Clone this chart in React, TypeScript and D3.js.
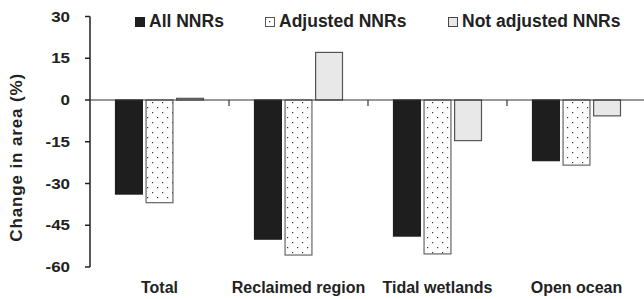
import React, { useRef, useEffect } from "react";
import * as d3 from "d3";

const categories = ["Total", "Reclaimed region", "Tidal wetlands", "Open ocean"];
const seriesNames = ["All NNRs", "Adjusted NNRs", "Not adjusted NNRs"];
const allNNRs = [-33.8, -50.0, -48.9, -21.8];
const adjustedNNRs = [-36.9, -55.7, -55.3, -23.4];
const notAdjustedNNRs = [0.6, 17.1, -14.6, -5.7];
const yTicks = [30, 15, 0, -15, -30, -45, -60];

export default function App() {
  const ref = useRef<SVGSVGElement>(null);

  useEffect(() => {
    const width = 644,
      height = 299;
    const svg = d3.select(ref.current).attr("width", width).attr("height", height);
    svg.selectAll("*").remove();

    const font = "'Liberation Sans', Arial, sans-serif";
    const left = 90,
      right = 646,
      top = 16.5,
      bottom = 267;

    const x = d3.scaleBand<string>().domain(categories).range([left, right]).padding(0);
    const y = d3.scaleLinear().domain([-60, 30]).range([bottom, top]);
    const inner = d3
      .scaleBand<string>()
      .domain(seriesNames)
      .range([-44, 44])
      .paddingInner(0.12)
      .paddingOuter(0);

    const defs = svg.append("defs");
    const pat = defs
      .append("pattern")
      .attr("id", "dots")
      .attr("patternUnits", "userSpaceOnUse")
      .attr("width", 10)
      .attr("height", 10);
    pat.append("rect").attr("width", 10).attr("height", 10).attr("fill", "#fff");
    pat.append("rect").attr("x", 2).attr("y", 2).attr("width", 1.2).attr("height", 1.2).attr("fill", "#333");
    pat.append("rect").attr("x", 7).attr("y", 7).attr("width", 1.2).attr("height", 1.2).attr("fill", "#333");

    const styles = [
      { fill: "#1e1e1e", stroke: "#1e1e1e" },
      { fill: "url(#dots)", stroke: "#666" },
      { fill: "#e8e8e8", stroke: "#555" },
    ];
    const series = [allNNRs, adjustedNNRs, notAdjustedNNRs];

    series.forEach((vals, si) => {
      svg
        .append("g")
        .selectAll("rect")
        .data(vals)
        .enter()
        .append("rect")
        .attr("x", (d, i) => x(categories[i])! + x.bandwidth() / 2 + inner(seriesNames[si])!)
        .attr("width", inner.bandwidth())
        .attr("y", (d) => y(Math.max(0, d)))
        .attr("height", (d) => Math.abs(y(d) - y(0)))
        .attr("fill", styles[si].fill)
        .attr("stroke", styles[si].stroke)
        .attr("stroke-width", 1.2);
    });

    // y axis
    const yAxis = svg.append("g").attr("transform", `translate(${left},0)`);
    yAxis
      .append("line")
      .attr("x1", 0)
      .attr("x2", 0)
      .attr("y1", y(30))
      .attr("y2", y(-60))
      .attr("stroke", "#222")
      .attr("stroke-width", 1.5);
    yTicks.forEach((t) => {
      yAxis
        .append("line")
        .attr("x1", -5)
        .attr("x2", 0)
        .attr("y1", y(t))
        .attr("y2", y(t))
        .attr("stroke", "#222")
        .attr("stroke-width", 1.5);
      yAxis
        .append("text")
        .attr("transform", `translate(-20,${y(t)}) scale(1.17,1)`)
        .attr("dy", "0.36em")
        .attr("text-anchor", "end")
        .attr("font-family", font)
        .attr("font-weight", "bold")
        .attr("font-size", 14.5)
        .attr("fill", "#222")
        .text(t);
    });

    // zero line
    svg
      .append("line")
      .attr("x1", left)
      .attr("x2", right)
      .attr("y1", y(0))
      .attr("y2", y(0))
      .attr("stroke", "#333")
      .attr("stroke-width", 1.2);
    categories.forEach((c) => {
      const xe = x(c)! + x.bandwidth();
      svg
        .append("line")
        .attr("x1", xe)
        .attr("x2", xe)
        .attr("y1", y(0))
        .attr("y2", y(0) + 6)
        .attr("stroke", "#333")
        .attr("stroke-width", 1.2);
      svg
        .append("text")
        .attr("x", x(c)! + x.bandwidth() / 2)
        .attr("y", 293)
        .attr("text-anchor", "middle")
        .attr("font-family", font)
        .attr("font-weight", "bold")
        .attr("font-size", 16)
        .attr("fill", "#222")
        .text(c);
    });

    // y title
    svg
      .append("text")
      .attr("transform", `translate(22,${(y(30) + y(-60)) / 2 + 16}) rotate(-90)`)
      .attr("text-anchor", "middle")
      .attr("font-family", font)
      .attr("font-weight", "bold")
      .attr("font-size", 17)
      .attr("textLength", 168)
      .attr("lengthAdjust", "spacing")
      .attr("fill", "#222")
      .text("Change in area (%)");

    // legend
    const legendX = [135, 265, 448];
    const legendStyles = [
      { fill: "#1e1e1e", stroke: "#1e1e1e" },
      { fill: "#fff", stroke: "#555" },
      { fill: "#e8e8e8", stroke: "#444" },
    ];
    seriesNames.forEach((s, i) => {
      const g = svg.append("g").attr("transform", `translate(${legendX[i]},0)`);
      g.append("rect")
        .attr("x", 0.5)
        .attr("y", 17.5)
        .attr("width", 9)
        .attr("height", 9)
        .attr("fill", legendStyles[i].fill)
        .attr("stroke", legendStyles[i].stroke);
      if (i === 1) {
        g.append("rect").attr("x", 4).attr("y", 21).attr("width", 1.2).attr("height", 1.2).attr("fill", "#333");
      }
      g.append("text")
        .attr("x", 14)
        .attr("y", 27)
        .attr("font-family", font)
        .attr("font-weight", "bold")
        .attr("font-size", 17.5)
        .attr("fill", "#222")
        .text(s);
    });
  }, []);

  return (
    <div style={{ position: "absolute", left: 0, top: 0 }}>
      <svg ref={ref}></svg>
    </div>
  );
}
